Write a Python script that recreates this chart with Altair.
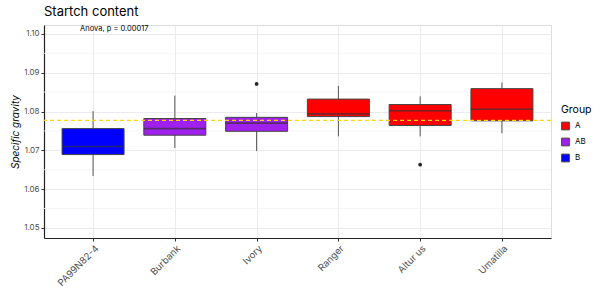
import altair as alt
import pandas as pd

varieties = ["PA99N82-4", "Burbank", "Ivory", "Ranger", "Altur us", "Umatilla"]
groups = ["B", "AB", "AB", "A", "A", "A"]
whisk_lo = [1.0634, 1.0706, 1.0698, 1.0736, 1.0736, 1.0744]
q1 = [1.0689, 1.0739, 1.0749, 1.0787, 1.0764, 1.0776]
median = [1.0710, 1.0756, 1.0770, 1.0794, 1.0802, 1.0806]
q3 = [1.0756, 1.0782, 1.0785, 1.0832, 1.0818, 1.0859]
whisk_hi = [1.0801, 1.0841, 1.0796, 1.0866, 1.0839, 1.0875]
outlier_variety = ["Ivory", "Altur us"]
outlier_value = [1.0871, 1.0663]
mean_line = 1.0777
minor_grid = [1.055, 1.065, 1.075, 1.085, 1.095]
anova_label = "Anova, p = 0.00017"

df = pd.DataFrame({"variety": varieties, "group": groups, "lo": whisk_lo,
                   "q1": q1, "med": median, "q3": q3, "hi": whisk_hi})
out_df = pd.DataFrame({"variety": outlier_variety, "value": outlier_value})
minor_df = pd.DataFrame({"y": minor_grid})
mean_df = pd.DataFrame({"y": [mean_line]})
txt_df = pd.DataFrame({"variety": [varieties[0]], "y": [1.1013], "label": [anova_label]})

FONT = "Inter"
W, H = 507, 213

xscale = alt.Scale(type="point", domain=varieties, padding=0.6)
yscale = alt.Scale(domain=[1.0474, 1.1023], nice=False, zero=False)

xenc = alt.X("variety:N", scale=xscale, sort=varieties,
             axis=alt.Axis(title=None, labelAngle=-45, labelAlign="right", labelBaseline="top",
                           labelFontSize=9.5, labelColor="#4D4D4D", labelFont=FONT,
                           tickColor="#333333", tickSize=3, domainColor="#222222", domainWidth=1.2,
                           gridColor="#EBEBEB", grid=True, labelPadding=2))

minor = alt.Chart(minor_df).mark_rule(color="#F2F2F2", strokeWidth=0.8).encode(
    y=alt.Y("y:Q", scale=yscale))

whisk = alt.Chart(df).mark_rule(color="#555555", strokeWidth=1).encode(
    x=xenc,
    y=alt.Y("lo:Q", scale=yscale,
            axis=alt.Axis(title="Specific gravity", titleFontStyle="italic", titleFontWeight="normal",
                          titleFontSize=10, titleFont=FONT, titleColor="#000000", titlePadding=3,
                          values=[1.05, 1.06, 1.07, 1.08, 1.09, 1.10], format=".2f",
                          labelFontSize=8, labelColor="#4D4D4D", labelFont=FONT,
                          tickColor="#333333", tickSize=3, domainColor="#222222", domainWidth=1.2,
                          gridColor="#EBEBEB", gridWidth=1.2, labelPadding=2)),
    y2="hi:Q")

boxes = alt.Chart(df).mark_bar(size=62, stroke="#444444", strokeWidth=1).encode(
    x=alt.X("variety:N", scale=xscale, sort=varieties),
    y=alt.Y("q1:Q", scale=yscale),
    y2="q3:Q",
    fill=alt.Fill("group:N", scale=alt.Scale(domain=["A", "AB", "B"], range=["#FF0000", "#A020F0", "#0000FF"]),
                  legend=alt.Legend(title="Group", orient="none", legendX=517, legendY=80,
                                    titleFontSize=10.5, titleFont=FONT, titleFontWeight="normal",
                                    titleColor="#000000", labelFontSize=8, labelFont=FONT,
                                    labelColor="#000000", symbolType="square", symbolSize=60,
                                    symbolStrokeColor="#444444", symbolStrokeWidth=1,
                                    rowPadding=3, labelOffset=5, titlePadding=6)))

med = alt.Chart(df).mark_tick(size=62, thickness=1.6, color="#333333", orient="horizontal").encode(
    x=alt.X("variety:N", scale=xscale, sort=varieties),
    y=alt.Y("med:Q", scale=yscale))

outs = alt.Chart(out_df).mark_circle(size=14, color="#222222", opacity=1).encode(
    x=alt.X("variety:N", scale=xscale, sort=varieties),
    y=alt.Y("value:Q", scale=yscale))

mean_rule = alt.Chart(mean_df).mark_rule(color="#FFD700", strokeDash=[4, 3], strokeWidth=1.2).encode(
    y=alt.Y("y:Q", scale=yscale))

txt = alt.Chart(txt_df).mark_text(align="left", baseline="middle", dx=-13, fontSize=7.5,
                                  font=FONT, color="#000000").encode(
    x=alt.X("variety:N", scale=xscale, sort=varieties),
    y=alt.Y("y:Q", scale=yscale),
    text="label:N")

chart = alt.layer(minor, whisk, boxes, med, outs, mean_rule, txt).properties(
    width=W, height=H,
    title=alt.TitleParams("Startch content", anchor="start", fontSize=13, font=FONT,
                          fontWeight="normal", color="#000000", offset=6, frame="group"),
    autosize=alt.AutoSizeParams(type="none"),
    padding={"left": 44, "top": 25, "right": 49, "bottom": 54},
).configure_view(stroke="#888888", strokeWidth=1).configure(background="white")

chart.save("out.html", embed_options={"renderer": "svg", "actions": False})
